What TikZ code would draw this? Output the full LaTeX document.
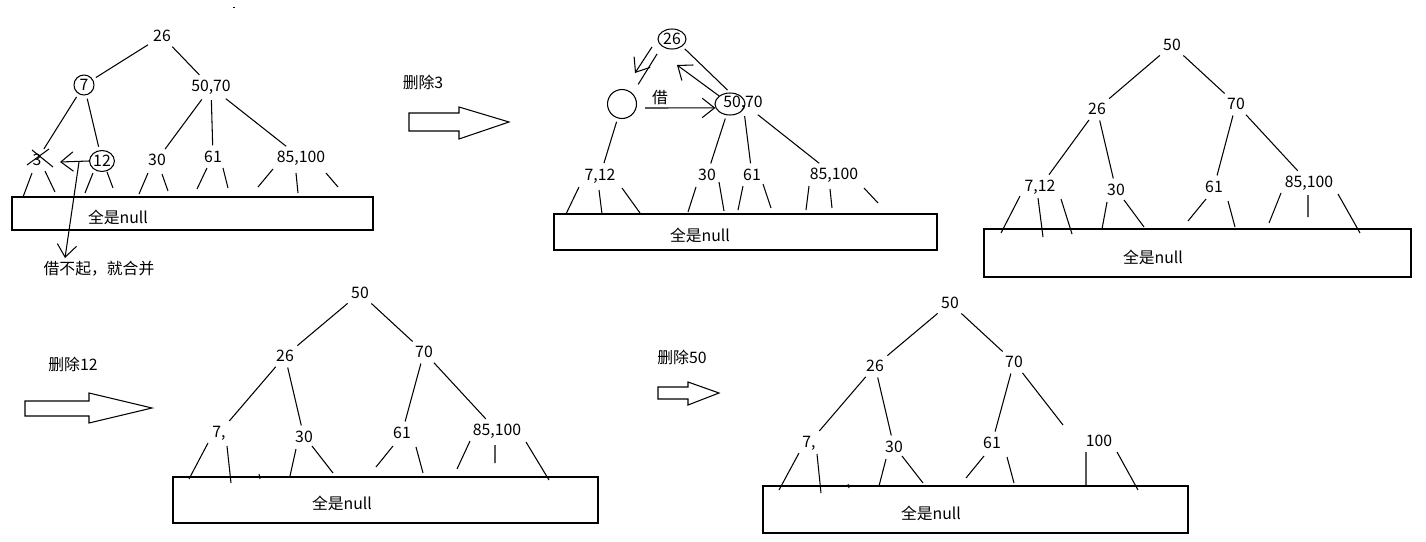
\documentclass[tikz,border=0pt]{standalone}
\usepackage{fontspec}
\setmainfont{Noto Sans CJK SC}
\usetikzlibrary{shapes.geometric,arrows.meta}

\tikzset{
  key/.style={inner sep=1pt, font=\fontsize{9}{11}\selectfont},
  ring/.style={key, draw, circle, inner sep=0pt},
  oval/.style={key, draw, ellipse, inner sep=0pt},
  link/.style={shorten <=2pt, shorten >=2pt},
  borrow/.style={-{Straight Barb[length=7pt,width=11pt]}},
}

\begin{document}
\begin{tikzpicture}[x=0.02cm, y=-0.02cm, line width=0.6pt]
  \useasboundingbox (0,0) rectangle (1426,541);
  \fill (233,6.5) rectangle (235,8);

  % before: delete 3
  \node[key] (a26) at (162,36) {26};
  \node[ring, minimum size=0.4cm] (a7) at (84,85) {7};
  \node[key] (a5070) at (211,87) {50,70};
  \node[key] (a3) at (37,160) {3};
  \node[oval, minimum width=0.48cm, minimum height=0.42cm] (a12) at (102,161) {12};
  \node[key] (a30) at (157,160) {30};
  \node[key] (a61) at (213,157) {61};
  \node[key] (a85) at (301,158) {85,100};
  \draw[link] (a26) -- (a7);
  \draw[link] (a26) -- (a5070);
  \draw[link] (a7) -- (a3);
  \draw[link] (a7) -- (a12);
  \draw[link] (a5070) -- (a30);
  \draw[link] (a5070) -- (a61);
  \draw[link] (a5070) -- (a85);
  \draw (32,150) -- (53,167) (49,149) -- (27,165);
  \draw (32,173) -- (23,197) (45,171) -- (55,192)
        (93,173) -- (85,193) (107,172) -- (113,188)
        (148,173) -- (139,194) (162,174) -- (168,191)
        (207,168) -- (197,189) (223,168) -- (228,188)
        (273,169) -- (258,187) (296,173) -- (298,193) (326,173) -- (338,187);
  \draw (12,197) rectangle (373,230);
  \node[key] (anull) at (118,217) {全是null};
  \coordinate (a3r) at (60,162);
  \draw[borrow] (a12.west) -- (a3r);
  \coordinate (a0) at (79,162);
  \coordinate (a1) at (65,258);
  \draw[borrow] (a0) -- (a1);
  \node[key] (msg) at (99,269) {借不起，就合并};

  \node[key] (del3) at (423,82) {删除3};
  \draw (409,113) -- (459,113) -- (459,107) -- (509,122) -- (459,139) -- (459,131) -- (409,131) -- cycle;

  % borrow from the right brother
  \node[oval, minimum width=0.56cm, minimum height=0.4cm] (b26) at (672,39) {26};
  \node[ring, minimum size=0.58cm] (bgap) at (622,104) {};
  \node[oval, minimum width=0.6cm, minimum height=0.44cm] (b5070o) at (730,104) {};
  \node[key] (b5070) at (743,103) {50,70};
  \node[key] (jie) at (660,98) {借};
  \node[key] (b712) at (600,176) {7,12};
  \node[key] (b30) at (707,175) {30};
  \node[key] (b61) at (752,175) {61};
  \node[key] (b85) at (834,175) {85,100};
  \draw[link, shorten <=5pt, shorten >=6pt] (b26.south west) -- (bgap.north east);
  \draw[link] (b5070o.north) -- (b26.south east);
  \draw[link] (bgap) -- (b712);
  \draw[link] (b5070o) -- (b30);
  \draw[link] (b5070) -- (b61);
  \draw[link] (b5070) -- (b85);
  \coordinate (c0) at (652,47);
  \coordinate (c1) at (635,73);
  \draw[borrow] (c0) -- (c1);
  \coordinate (c3) at (677,65);
  \draw[borrow] (b5070o.north west) -- (c3);
  \coordinate (c2) at (645,108);
  \draw[borrow] (c2) -- (b5070o.195);
  \draw (579,187) -- (566,214) (599,190) -- (602,214) (622,188) -- (640,213)
        (696,187) -- (688,212) (719,182) -- (724,211)
        (743,186) -- (738,210) (763,184) -- (771,208)
        (809,186) -- (806,210) (830,189) -- (832,208) (864,188) -- (878,203);
  \draw (554,214) rectangle (937,250);
  \node[key] (bnull) at (700,235) {全是null};

  % after rotation
  \node[key] (c50) at (1172,45) {50};
  \node[key] (c26) at (1097,109) {26};
  \node[key] (c70) at (1236,104) {70};
  \node[key] (c712) at (1040,187) {7,12};
  \node[key] (c30) at (1116,190) {30};
  \node[key] (c61) at (1214,187) {61};
  \node[key] (c85) at (1309,183) {85,100};
  \draw[link] (c50) -- (c26);
  \draw[link] (c50) -- (c70);
  \draw[link] (c26) -- (c712);
  \draw[link] (c26) -- (c30);
  \draw[link] (c70) -- (c61);
  \draw[link] (c70) -- (c85);
  \draw (1020,196) -- (1001,233) (1038,198) -- (1043,237) (1061,199) -- (1072,234)
        (1107,202) -- (1102,229) (1124,200) -- (1144,227)
        (1206,199) -- (1188,221) (1228,201) -- (1235,227)
        (1281,193) -- (1269,223) (1308,195) -- (1308,217) (1338,194) -- (1360,233);
  \draw (984,229) rectangle (1411,277);
  \node[key] (cnull) at (1153,257) {全是null};

  % delete 12
  \node[key] (del12) at (73,364) {删除12};
  \draw (25,401) -- (89,401) -- (89,393) -- (152,408) -- (89,423) -- (89,416) -- (25,416) -- cycle;
  \node[key] (d50) at (360,293) {50};
  \node[key] (d26) at (285,356) {26};
  \node[key] (d70) at (424,352) {70};
  \node[key] (d7) at (219,433) {7,};
  \node[key] (d30) at (304,437) {30};
  \node[key] (d61) at (402,433) {61};
  \node[key] (d85) at (497,431) {85,100};
  \draw[link] (d50) -- (d26);
  \draw[link] (d50) -- (d70);
  \draw[link] (d26) -- (d7);
  \draw[link] (d26) -- (d30);
  \draw[link] (d70) -- (d61);
  \draw[link] (d70) -- (d85);
  \draw (208,443) -- (189,479) (227,446) -- (231,483) (259,474) -- (260,479)
        (296,449) -- (290,476) (312,446) -- (333,473)
        (393,446) -- (376,467) (416,447) -- (423,473)
        (470,441) -- (457,469) (495,445) -- (495,463) (526,442) -- (549,480);
  \draw (173,477) rectangle (598,523);
  \node[key] (dnull) at (342,503) {全是null};

  % delete 50
  \node[key] (del50) at (682,357) {删除50};
  \draw (658,387) -- (688,387) -- (688,382) -- (719,393) -- (688,405) -- (688,399) -- (658,399) -- cycle;
  \node[key] (e50) at (950,303) {50};
  \node[key] (e26) at (875,366) {26};
  \node[key] (e70) at (1014,362) {70};
  \node[key] (e7) at (809,443) {7,};
  \node[key] (e30) at (894,447) {30};
  \node[key] (e61) at (992,443) {61};
  \node[key] (e100) at (1099,441) {100};
  \coordinate (e85) at (1063,425);
  \draw[link] (e50) -- (e26);
  \draw[link] (e50) -- (e70);
  \draw[link] (e26) -- (e7);
  \draw[link] (e26) -- (e30);
  \draw[link] (e70) -- (e61);
  \draw[shorten <=2pt] (e70) -- (e85);
  \draw (799,453) -- (779,490) (817,454) -- (821,493) (848,484) -- (849,488)
        (886,459) -- (879,486) (902,456) -- (923,483)
        (984,456) -- (966,478) (1007,457) -- (1014,483)
        (1086,452) -- (1086,486) (1117,452) -- (1138,490);
  \draw (763,486) rectangle (1188,533);
  \node[key] (enull) at (931,513) {全是null};
\end{tikzpicture}
\end{document}
